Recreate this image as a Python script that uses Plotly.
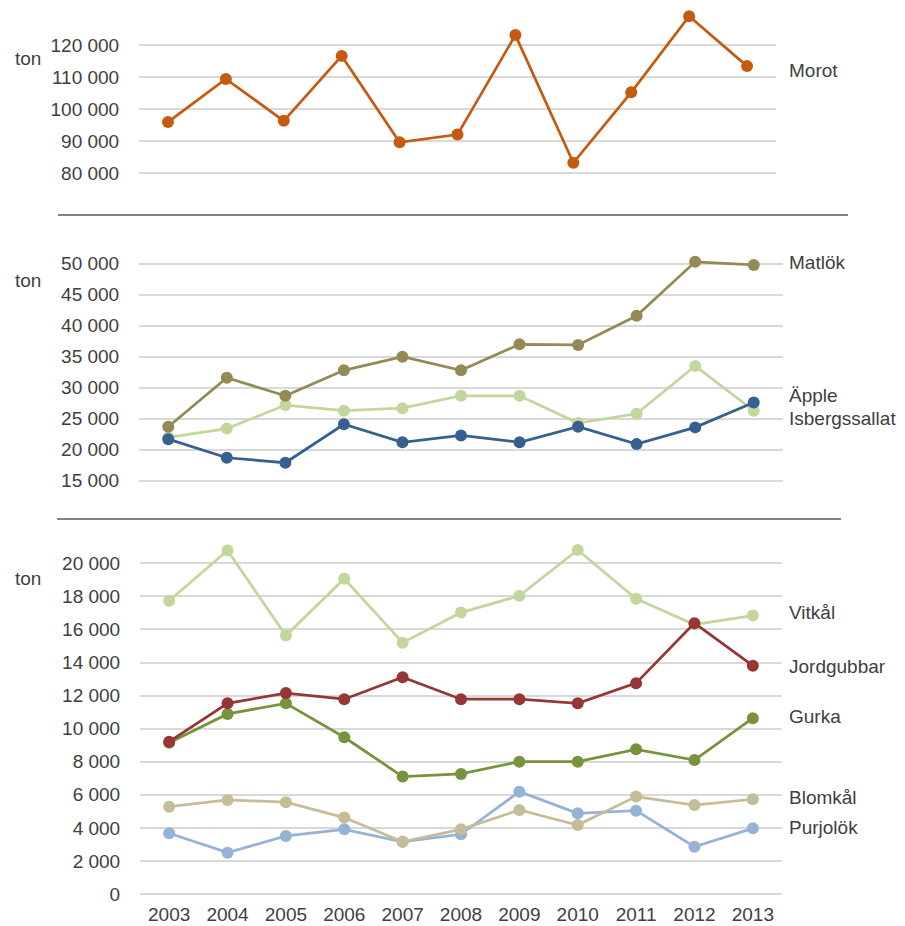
import plotly.graph_objects as go

years = [2003, 2004, 2005, 2006, 2007, 2008, 2009, 2010, 2011, 2012, 2013]

# Panel 1
morot = [95900, 109400, 96300, 116600, 89600, 92000, 123100, 83200, 105200, 129000, 113400]

# Panel 2
matlok = [23700, 31600, 28700, 32800, 35000, 32800, 37000, 36900, 41600, 50300, 49800]
apple = [21700, 18700, 17900, 24100, 21200, 22300, 21200, 23700, 20900, 23600, 27600]
isbergssallat = [22000, 23400, 27200, 26300, 26700, 28700, 28700, 24300, 25800, 33500, 26300]

# Panel 3
vitkal = [17740, 20770, 15630, 19060, 15200, 17020, 18030, 20810, 17850, 16300, 16840]
jordgubbar = [9210, 11530, 12150, 11780, 13110, 11780, 11780, 11530, 12750, 16380, 13810]
gurka = [9150, 10890, 11530, 9480, 7100, 7260, 8000, 8000, 8750, 8100, 10630]
blomkal = [5280, 5690, 5550, 4620, 3160, 3910, 5080, 4170, 5890, 5380, 5730]
purjolok = [3670, 2500, 3510, 3910, 3160, 3610, 6190, 4880, 5040, 2860, 3970]

ticks1 = [80000, 90000, 100000, 110000, 120000]
ticks2 = [15000, 20000, 25000, 30000, 35000, 40000, 45000, 50000]
ticks3 = [0, 2000, 4000, 6000, 8000, 10000, 12000, 14000, 16000, 18000, 20000]

W, H = 905, 926
TXT = "#404040"
FONT = "Liberation Sans, Arial, sans-serif"
FS = 19


def fmt(v):
    return f"{v:,}".replace(",", " ")


def py(p):
    return 1 - p / H


def px(p):
    return p / W


fig = go.Figure()

series = [
    ("Morot", morot, "#C55A11", 1),
    ("Isbergssallat", isbergssallat, "#C3D69B", 2),
    ("Matlök", matlok, "#948A54", 2),
    ("Äpple", apple, "#376092", 2),
    ("Purjolök", purjolok, "#95B3D7", 3),
    ("Blomkål", blomkal, "#C4BD97", 3),
    ("Vitkål", vitkal, "#C3D69B", 3),
    ("Gurka", gurka, "#77933C", 3),
    ("Jordgubbar", jordgubbar, "#953735", 3),
]

for name, vals, col, pnl in series:
    fig.add_trace(go.Scatter(
        x=years, y=vals, name=name, mode="lines+markers",
        line=dict(color=col, width=2.75),
        marker=dict(color=col, size=12),
        xaxis="x" if pnl == 1 else f"x{pnl}",
        yaxis="y" if pnl == 1 else f"y{pnl}",
        showlegend=False, hoverinfo="x+y+name",
    ))

grid = "#D9D9D9"
common_y = dict(showgrid=True, gridcolor=grid, gridwidth=1.5, zeroline=False,
                showline=False, ticks="outside", ticklen=15, automargin=False,
                tickcolor="rgba(0,0,0,0)",
                tickfont=dict(size=FS, color=TXT, family=FONT))
common_x = dict(range=[2002.5, 2013.5], showgrid=False, zeroline=False,
                showline=False, tickvals=years, ticktext=[str(y) for y in years],
                automargin=False, ticks="",
                tickfont=dict(size=FS, color=TXT, family=FONT))

fig.update_layout(
    width=W, height=H,
    margin=dict(l=0, r=0, t=0, b=0, autoexpand=False),
    paper_bgcolor="white", plot_bgcolor="white",
    font=dict(family=FONT, color=TXT, size=FS),
    xaxis=dict(domain=[px(139), px(776)], anchor="y", showticklabels=False, **common_x),
    xaxis2=dict(domain=[px(139), px(783)], anchor="y2", showticklabels=False, **common_x),
    xaxis3=dict(domain=[px(140), px(782)], anchor="y3", showticklabels=True, **common_x),
    yaxis=dict(domain=[py(195.4), py(9.8)], range=[73000, 131000], anchor="x",
               tickvals=ticks1, ticktext=[fmt(v) for v in ticks1], **common_y),
    yaxis2=dict(domain=[py(505.5), py(238.9)], range=[11000, 54000], anchor="x2",
                tickvals=ticks2, ticktext=[fmt(v) for v in ticks2], **common_y),
    yaxis3=dict(domain=[py(900.6), py(538.5)], range=[-400, 21500], anchor="x3",
                tickvals=ticks3, ticktext=[fmt(v) for v in ticks3], **common_y),
)

# separators between panels
for ysep, x0, x1 in [(215, 58, 848), (519, 57, 841)]:
    fig.add_shape(type="line", xref="paper", yref="paper",
                  x0=px(x0), x1=px(x1), y0=py(ysep), y1=py(ysep),
                  line=dict(color="#595959", width=1.5))

# unit labels
for yy in [58, 280, 578]:
    fig.add_annotation(text="ton", xref="paper", yref="paper", x=px(13), y=py(yy),
                       xanchor="left", yanchor="middle", showarrow=False,
                       font=dict(size=FS, color=TXT, family=FONT))

# series labels
labels = [("Morot", 70), ("Matlök", 262), ("Äpple", 395), ("Isbergssallat", 418),
          ("Vitkål", 612), ("Jordgubbar", 666), ("Gurka", 716),
          ("Blomkål", 797), ("Purjolök", 827)]
for txt, yy in labels:
    fig.add_annotation(text=txt, xref="paper", yref="paper", x=px(787), y=py(yy),
                       xanchor="left", yanchor="middle", showarrow=False,
                       font=dict(size=FS, color=TXT, family=FONT))

fig.write_html("out.html")
